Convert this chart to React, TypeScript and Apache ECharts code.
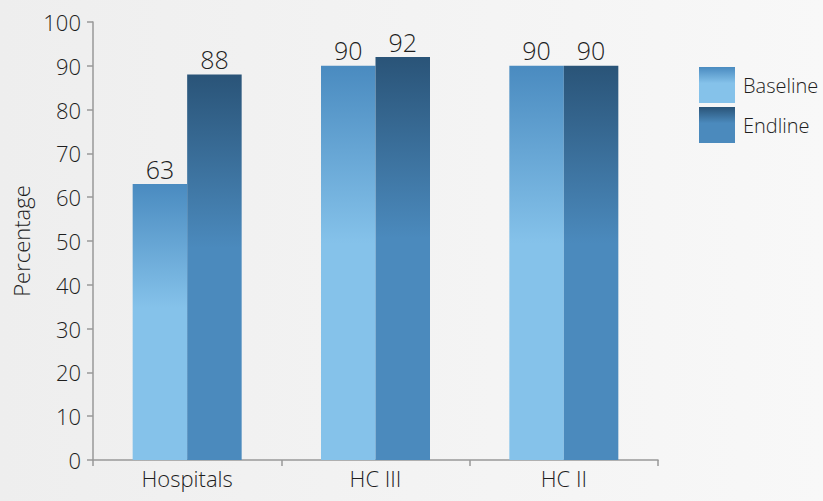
import React, { useEffect, useRef } from "react";
import * as echarts from "echarts";

const categories = ["Hospitals", "HC III", "HC II"];
const baseline = [63, 90, 90];
const endline = [88, 92, 90];
const seriesNames = ["Baseline", "Endline"];
const yTicks = { min: 0, max: 100, interval: 10 };

const FONT = "'Open Sans', 'Noto Sans', sans-serif";
const TEXT = "#1e1e1e";
const WEIGHT = 300;

const grad = (top: string, bottom: string) =>
  new echarts.graphic.LinearGradient(0, 0, 0, 1, [
    { offset: 0, color: top },
    { offset: 0.45, color: bottom },
    { offset: 1, color: bottom },
  ]);

export default function App() {
  const ref = useRef<HTMLDivElement>(null);
  useEffect(() => {
    if (!ref.current) return;
    const chart = echarts.init(ref.current, undefined, { renderer: "svg" });
    const labelStyle = {
      show: true,
      position: "top" as const,
      distance: 3,
      fontFamily: FONT,
      fontWeight: WEIGHT,
      fontSize: 25,
      color: TEXT,
    };
    chart.setOption({
      animation: false,
      backgroundColor: new echarts.graphic.LinearGradient(0, 0, 1, 0, [
        { offset: 0, color: "#eeeeee" },
        { offset: 1, color: "#f8f8f8" },
      ]),
      textStyle: { fontFamily: FONT },
      grid: { left: 93, right: 165, top: 22, bottom: 41 },
      legend: {
        orient: "vertical",
        left: 694,
        top: 62,
        itemWidth: 36,
        itemHeight: 36,
        itemGap: 4,
        icon: "rect",
        textStyle: { fontFamily: FONT, fontWeight: WEIGHT, fontSize: 20, color: TEXT, padding: [0, 0, 0, 3] },
        data: seriesNames,
      },
      xAxis: {
        type: "category",
        data: categories,
        axisLine: { lineStyle: { color: "#999", width: 1.5 } },
        axisTick: { show: true, length: 6, lineStyle: { color: "#999", width: 1.5 } },
        axisLabel: { fontFamily: FONT, fontWeight: WEIGHT, fontSize: 22, color: TEXT, margin: 7 },
      },
      yAxis: {
        type: "value",
        min: yTicks.min,
        max: yTicks.max,
        interval: yTicks.interval,
        name: "Percentage",
        nameLocation: "middle",
        nameGap: 60,
        nameTextStyle: { fontFamily: FONT, fontWeight: WEIGHT, fontSize: 22, color: TEXT },
        splitLine: { show: false },
        axisLine: { show: true, lineStyle: { color: "#999", width: 1.5 } },
        axisTick: { show: true, length: 6, lineStyle: { color: "#999", width: 1.5 } },
        axisLabel: { fontFamily: FONT, fontWeight: WEIGHT, fontSize: 22, color: TEXT, margin: 12 },
      },
      series: [
        {
          name: seriesNames[0],
          type: "bar",
          data: baseline,
          barWidth: 54.5,
          barGap: "0%",
          itemStyle: { color: grad("#4a8bc0", "#85c2ea") },
          label: labelStyle,
        },
        {
          name: seriesNames[1],
          type: "bar",
          data: endline,
          barWidth: 54.5,
          barGap: "0%",
          itemStyle: { color: grad("#2a5478", "#4b8abd") },
          label: labelStyle,
        },
      ],
    });
    return () => chart.dispose();
  }, []);
  return (
    <div
      ref={ref}
      style={{ width: 823, height: 501, position: "absolute", left: 0, top: 0 }}
    />
  );
}
